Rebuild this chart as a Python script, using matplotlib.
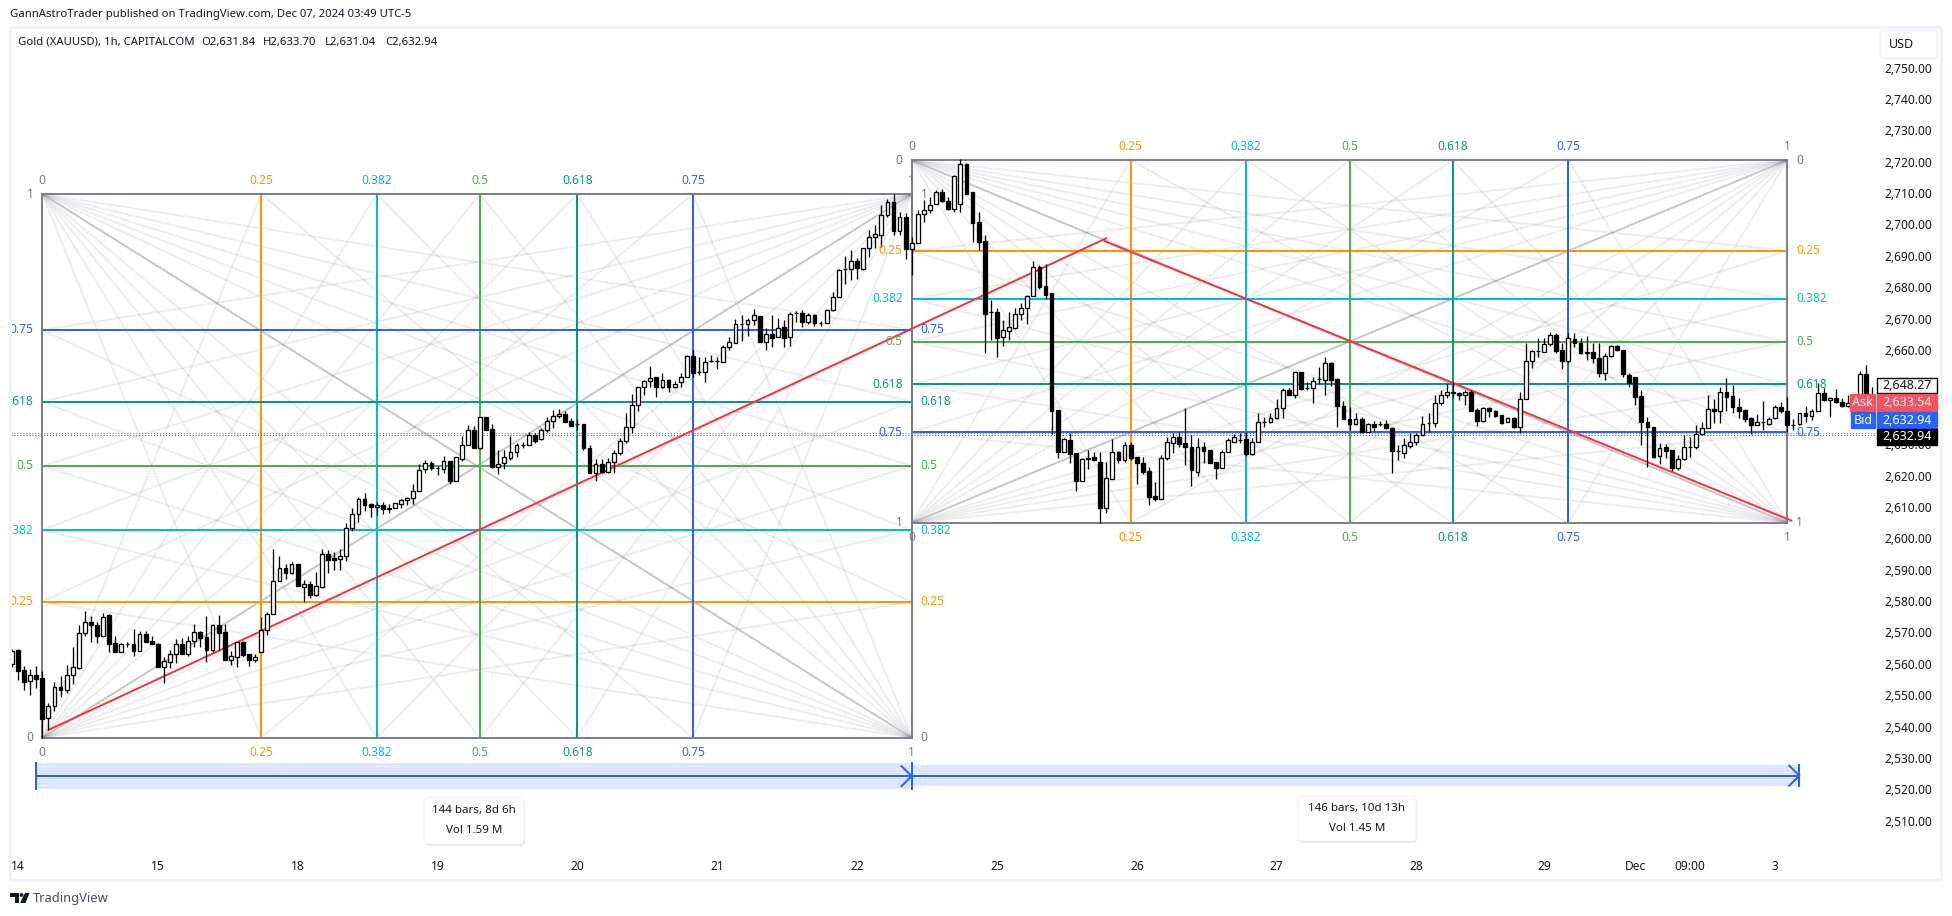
import matplotlib
matplotlib.use("Agg")
import matplotlib.pyplot as plt
from matplotlib.patches import Rectangle, FancyBboxPatch, Polygon, Circle

W, H = 1952, 916
plt.rcParams['font.family'] = ['Noto Sans', 'DejaVu Sans']

first_bar = -5
opens = [2559.8,2564.3,2557.9,2554.4,2556.3,
 2555.4,2542.6,2546.4,2552.7,2551.5,2556.3,2558.8,2569.7,2573.2,2572.3,
 2569,2575.6,2566.5,2563.9,2566.2,2566.2,2564.2,2569.4,2567.3,2566.3,
 2559.1,2560.7,2563,2566.2,2563.2,2567.2,2570,2568.4,2564.5,2572.3,
 2570,2561.2,2562.3,2566.9,2563,2561.2,2563.6,2570.7,2575.8,2586.3,
 2590.4,2589,2591.7,2584.6,2585.3,2581.9,2584.6,2594.9,2593.6,2593.4,
 2594.5,2603.2,2607.6,2612.5,2610.8,2609.9,2610.5,2609.6,2609.6,2610.8,
 2612.2,2612.8,2615,2622,2623.9,2622.3,2622,2624.5,2618.2,2625.4,
 2629.6,2634.4,2628.9,2638.5,2634.7,2622.6,2623.9,2625.7,2627.4,2629.7,
 2629.8,2633,2631.5,2634.4,2637.3,2638.9,2639.5,2637.3,2636.3,2636.4,
 2628.7,2620.7,2623.6,2621.2,2624.3,2627.3,2631.1,2635.4,2642.4,2648.1,
 2650,2651.3,2648.1,2650.3,2648.2,2649.9,2651.5,2658.1,2653.1,2653.1,
 2656.4,2656.4,2656.3,2660.9,2662.3,2668.2,2668.2,2669.5,2670.8,2662.7,
 2665.1,2664,2667.2,2664,2671.7,2671.7,2669,2671.2,2668.6,2668.5,
 2672.6,2677,2685.7,2685.7,2688.4,2685.9,2692.4,2695.9,2696.8,2702.9,
 2707,2698,2702.3,2692.2,2694,2703.2,2704.5,2706.4,2710.5,2707.6,
 2705,2706.6,2719.3,2710.2,2700.7,2694.7,2672,2672,2664,2666.2,
 2666.9,2671.4,2673.3,2677.1,2686.4,2680.4,2678,2640.9,2627.6,2631.3,
 2627.2,2618.1,2625.5,2625.9,2624.3,2609.8,2619,2627.4,2625,2629.7,
 2625.8,2623.9,2621.3,2613.5,2612.6,2625.5,2630.5,2632.4,2630.5,2629.2,
 2621.2,2629,2628.1,2624.2,2622.5,2627.4,2630.8,2631.4,2631.5,2626.9,
 2630.6,2637.2,2636.9,2638.2,2641.4,2647.2,2645.7,2652.9,2648,2648,
 2650.7,2650.4,2655.8,2650.8,2642.2,2638.1,2636.5,2638.1,2634,2636.4,
 2636.4,2636.3,2635,2627.9,2627.3,2629.5,2630.6,2632.9,2636.6,2636.6,
 2643.2,2645.8,2646.7,2646.2,2645.7,2646.5,2640.9,2637.5,2641.4,2640.5,
 2639.3,2637.2,2638.4,2635.3,2644.3,2656.6,2659.7,2659.3,2661.8,2664.7,
 2660,2656.6,2663.5,2662.1,2659.4,2659.3,2657.4,2652.8,2658.2,2661.4,
 2660,2652.1,2651.3,2645.3,2637.1,2635.6,2626.3,2629,2628.1,2622.3,
 2625.2,2629.2,2629,2633.2,2635,2641.1,2640.4,2646.5,2645.3,2641.7,
 2640.9,2638.2,2636.1,2636.9,2636.3,2638.2,2641.9,2640.6,2636.2,2636.3,
 2639.8,2639.1,2640.4,2646.2,2644.1,2644.7,2643.3,2642,2643,2638,2652.4,2640]
closes = [2564.2,2557.8,2554.3,2556.3,2555.3,
 2542.5,2546.4,2552.7,2551.5,2556.3,2558.9,2569.7,2573.2,2572.2,2569,
 2575,2566.4,2563.6,2566.2,2566.3,2564.2,2569.4,2567.1,2566.4,2559.1,
 2560.8,2563,2566.2,2563.2,2567.2,2570,2568.3,2564.5,2572.3,2569.9,
 2561.2,2562.4,2566.9,2562.9,2561.2,2562.3,2570.7,2575.8,2586.3,2590.4,
 2589,2591.7,2584.8,2585.3,2581.9,2584.9,2594.9,2593.1,2593.1,2594.5,
 2603.2,2607.6,2612.5,2610.7,2609.9,2610.5,2609.2,2609.2,2611.1,2612.2,
 2612.8,2615,2621.7,2623.9,2622.3,2622.3,2624.5,2618.4,2625.8,2629.6,
 2634.4,2628.9,2638.5,2634.5,2622.6,2623.8,2625.8,2627.4,2629.7,2629.8,
 2633,2631.1,2634.5,2637.3,2638.9,2639.5,2637.2,2635.9,2636.3,2628.7,
 2620.9,2623.6,2621.1,2624.4,2627.3,2631.1,2635.4,2642.4,2648.1,2650,
 2651.2,2648.1,2650.3,2648.3,2649.3,2651.5,2658.1,2652.8,2653.1,2656.3,
 2656.4,2656.4,2660.9,2662.4,2668.2,2668.2,2669.5,2671.1,2662.7,2665,
 2663.9,2667.1,2663.9,2671.4,2671.7,2669,2671,2668.7,2668.6,2672.6,
 2677,2685.5,2685.7,2688.4,2686,2692.4,2695.9,2696.9,2702.9,2707,
 2698,2702.3,2692.2,2694,2703.2,2704.5,2706.2,2710.5,2707.6,2704.9,
 2715.4,2719.2,2709.7,2700.6,2694.5,2671.6,2672,2663.9,2666.3,2667.2,
 2671.4,2673.3,2677.2,2686.3,2680.2,2677.5,2640.7,2627.5,2631.5,2627,
 2618.1,2625.3,2625.1,2624.8,2609.8,2619.1,2627.4,2624.8,2629.7,2625.7,
 2623.9,2621.1,2613.3,2612.4,2625.5,2630.6,2632.4,2630.1,2629.2,2621.6,
 2629,2627.9,2624.1,2622.5,2627.4,2631.2,2632.2,2631.4,2626.9,2630.8,
 2636.9,2637.2,2638.2,2641.4,2647.2,2645.7,2652.9,2647.6,2648,2650.2,
 2650.7,2655.8,2650.4,2642,2638.1,2636.5,2638.1,2634,2636.3,2635.3,
 2636.4,2635,2627.8,2627.9,2629.7,2630.6,2632.9,2636.3,2636.6,2643.2,
 2645.5,2646.7,2646.2,2645.7,2646.5,2640.7,2637.5,2641.4,2640.4,2639.1,
 2636.6,2638.2,2635.3,2644.3,2656.6,2659.7,2659.7,2661.9,2664.7,2659.8,
 2656.6,2663.7,2662.1,2659,2659,2657.4,2652.8,2658.2,2661.4,2660,
 2652.3,2649.4,2645.1,2636.9,2635.4,2626,2628.7,2627.9,2622.3,2625.2,
 2629.2,2629.2,2633.2,2635,2641.1,2640.4,2646.5,2644.9,2641.7,2640.7,
 2638,2636.1,2637,2636.9,2637.9,2641.9,2640.4,2636.1,2636.2,2639.8,
 2639.1,2640.4,2646.2,2644.1,2644.7,2643.3,2642,2643,2638,2652.4,2640,2642]
highs = [2564.7,2564.7,2559.4,2558.4,2559.3,
 2557.7,2547.4,2554.3,2556.1,2559.6,2565.3,2572.4,2576.7,2575.2,2573.4,
 2576.1,2575.9,2568.9,2566.5,2567.1,2571,2570.6,2570.5,2568.9,2566.5,
 2562.1,2564.4,2568,2568.2,2568.9,2572.6,2570.5,2575.1,2572.7,2575.6,
 2572.7,2564.2,2567.1,2567.2,2563,2563.1,2574.8,2576.6,2596.5,2594.4,
 2591.7,2592.5,2591.7,2586.7,2586.4,2589.4,2596.5,2596.3,2595.7,2596.5,
 2604.8,2609.5,2613,2614.3,2611.1,2611.5,2611.7,2610.9,2611.1,2612.5,
 2613.2,2617.3,2623.7,2624.8,2624.7,2623,2626.2,2624.5,2625.8,2632.6,
 2636.1,2635.8,2638.7,2638.7,2636.4,2628.1,2628.2,2632.6,2630.3,2630.8,
 2634,2633.5,2635,2638.8,2640.9,2641.1,2640.7,2638.2,2637.9,2636.4,
 2629.7,2625.2,2625.2,2625.5,2628.2,2631.9,2639.8,2646,2648.1,2650.4,
 2654.9,2651.5,2652.6,2650.8,2650.1,2652.6,2658.4,2660,2657.9,2657.9,
 2658.4,2657.9,2661.6,2664.2,2669.8,2671.2,2670.1,2673,2670.8,2666.9,
 2671.2,2670.1,2669.6,2672.2,2672.4,2672.8,2671.9,2671.4,2669.3,2673,
 2678.6,2685.7,2690,2691.9,2689.2,2692.6,2698.2,2699.8,2706.2,2708,
 2709.6,2704.1,2703.6,2696.1,2704.6,2707.8,2708.9,2711,2711.2,2708.9,
 2715.8,2720.8,2719.5,2710.5,2703.9,2696.6,2675.9,2673.3,2669.6,2672.2,
 2673.3,2674.9,2677.5,2688.4,2687.1,2687.3,2678,2640.9,2631.8,2633.5,
 2627.2,2625.5,2628.1,2627.6,2627.6,2624.4,2631.5,2627.8,2630.8,2630.8,
 2625.8,2625.8,2622.6,2617.8,2626.6,2632.4,2633.7,2634,2641.4,2632.9,
 2631.9,2630.8,2628.1,2624.2,2628.1,2631.9,2633.3,2633.5,2634,2631.9,
 2639.8,2638.8,2639.8,2644.3,2647.8,2647.8,2653.1,2653.1,2649.9,2651.5,
 2654.5,2657.7,2656.1,2651,2643.6,2641.9,2639.8,2638.6,2636.6,2637.5,
 2637.5,2637.7,2635.3,2629.7,2631.9,2633.5,2633.7,2639,2639.8,2645.7,
 2647.3,2649.2,2649.9,2646.7,2647.3,2647.3,2641.4,2641.9,2641.9,2640.9,
 2639.3,2638.8,2638.8,2646.7,2662.1,2660,2663.7,2663.7,2665.6,2665.3,
 2662.1,2665.3,2665.5,2663.7,2664.3,2662.1,2662.1,2659,2661.6,2661.6,
 2660,2652.8,2651.5,2647.3,2638.8,2635.6,2630.3,2630.1,2628.1,2626.6,
 2632.9,2632.4,2636.1,2636.9,2645.7,2644.3,2648.3,2651,2648.9,2644.6,
 2641.1,2638.5,2639.5,2643.9,2638.6,2642.5,2643.5,2645.1,2637.9,2640,
 2642.2,2641.1,2649.6,2648,2645.1,2647.5,2644.6,2645.7,2643.5,2653.4,2655.2,2648.1]
lows = [2558.9,2554.9,2551.5,2549.9,2552.2,
 2536.5,2538.9,2544.8,2549.5,2550.8,2553.6,2558.3,2568.7,2567.1,2566.7,
 2568.9,2563.6,2563.6,2563.9,2565.3,2562.5,2564.2,2567,2566.4,2559.1,
 2554,2558.8,2560.4,2563.2,2562.6,2565.5,2565.3,2560.6,2563.9,2564.4,
 2561.2,2559.6,2559.1,2562.3,2559.3,2560.7,2563.6,2569.2,2575.8,2586.3,
 2587.1,2588.6,2584.8,2579.8,2581.1,2581.7,2584.1,2589,2589.9,2589.9,
 2592.6,2602.4,2605.3,2608.8,2606.9,2607.3,2607.6,2607.9,2609.6,2609.7,
 2610.6,2610.9,2615,2620.9,2621.8,2620.3,2620.9,2617.3,2618.2,2624.7,
 2629.6,2628.7,2628.4,2634.5,2622.3,2620.5,2622,2625,2626,2628.7,
 2629.7,2630.3,2631.3,2634,2635,2638.2,2637.2,2635.9,2634.5,2628.2,
 2620.9,2618.4,2620.7,2620.9,2620.9,2626.5,2630.3,2633.5,2640.4,2645.7,
 2648.3,2645.1,2647.8,2646.7,2647.8,2648.3,2651.5,2651.5,2652,2649.9,
 2656.2,2654,2656.3,2660,2662.1,2662.9,2664.6,2668,2662.7,2660,
 2661.1,2664,2661.1,2661.4,2669,2667.4,2668.2,2667.8,2667.8,2668.5,
 2672.4,2677,2681,2682.3,2682.7,2685.5,2689.5,2692.4,2692.9,2702.5,
 2696.6,2696.6,2689,2683.9,2694,2700.9,2703.5,2706.4,2707.3,2704.6,
 2704.1,2704.1,2709.7,2694.5,2691.9,2659,2663.2,2657.9,2661.4,2663.2,
 2666.7,2669.6,2668.3,2677.1,2679.3,2676.3,2633.3,2625.7,2627.6,2624.1,
 2615.2,2618.1,2622.1,2624.8,2604.8,2608.2,2619,2623.9,2624.4,2624.8,
 2617.3,2620.5,2610.6,2612,2612.6,2625,2627.3,2629.2,2623.4,2616.5,
 2620,2623.9,2624.1,2618.9,2622.3,2627.4,2630.8,2630.3,2626.2,2626.6,
 2630.6,2635.6,2636.6,2637.9,2638.2,2645.5,2644.6,2647.3,2647.3,2643,
 2649.2,2645.5,2648.5,2635.3,2638.1,2634.5,2636.1,2633.5,2634,2634.2,
 2635.8,2634.8,2620.7,2625,2625.5,2628.7,2629.7,2632.9,2634,2635.3,
 2642.5,2644.6,2644.6,2644.1,2642.5,2640.7,2635.9,2637.2,2638.8,2638.8,
 2636.4,2636.9,2635.1,2633.5,2644.3,2654.4,2657.9,2659.3,2661.4,2659,
 2654,2655.8,2661,2658.7,2656.8,2655.8,2651.5,2650.4,2657.7,2659.8,
 2651.3,2648.3,2642.5,2629.7,2622.6,2625.5,2623.7,2625.5,2621.5,2621.8,
 2625,2626,2628.4,2632.9,2635,2636.6,2636.6,2640.4,2639.8,2638.2,
 2637,2633.2,2636.1,2634.5,2636.1,2637.9,2639.8,2634,2634.5,2636.1,
 2637.2,2637.7,2640.4,2643.9,2638.8,2643,2641.7,2641.7,2637,2637.5,2639,2635.1]

price_ticks = [p for p in range(2510, 2760, 10) if p not in (2640, 2650)]
date_bars = [-4, 19, 42, 65, 88, 111, 134, 157, 180, 203, 226, 247, 262, 271, 285]
date_labels = ['14', '15', '18', '19', '20', '21', '22', '25', '26', '27', '28', '29', 'Dec', '09:00', '3']

fib_levels = [0.25, 0.382, 0.5, 0.618, 0.75]
fib_names = ['0.25', '0.382', '0.5', '0.618', '0.75']
fib_colors = ['#FF9800', '#00BCD4', '#4CAF50', '#089981', '#2962FF']
box1_bars = (0, 143)
box1_prices = (2536.4, 2709.7)
box1_vbars = [36, 55, 72, 88, 107]
box2_bars = (143, 287)
box2_prices = (2604.9, 2720.5)   # level 1 at the bottom, 0 at the top
box2_vbars = [179, 198, 215, 232, 251]

trend_up = ([1, 175], [2538.9, 2695.6])
trend_down = ([174.7, 287.7], [2694.7, 2605.6])
ask_price, bid_price = 2633.54, 2632.94
range1 = (-1, 143, 2520.1, 2528.3)
range2 = (143, 289, 2521.0, 2527.7)

# --- scale: pixels <-> data
BAR0, BAR_W = 42.3, 6.08
P0, P_PX = 2720.0, 3.138
Y0 = 161.7
def bar_at(x): return (x - BAR0) / BAR_W
def price_at(y): return P0 - (y - Y0) / P_PX

PL, PR, PT, PB = 11, 1876, 28, 856
fig = plt.figure(figsize=(W / 100, H / 100), dpi=100, facecolor='white')
ax = fig.add_axes([PL / W, 1 - PB / H, (PR - PL) / W, (PB - PT) / H], zorder=1)
ax.set_xlim(bar_at(PL), bar_at(PR))
ax.set_ylim(price_at(PB), price_at(PT))
ax.set_facecolor('white')
for s in ax.spines.values():
    s.set_visible(False)
PX = 0.72
TXT = '#131722'
GREY = '#787B86'

ax.yaxis.tick_right()
ax.set_yticks(price_ticks)
ax.set_yticklabels([f'{p:,.2f}' for p in price_ticks], fontsize=8.6, color=TXT)
ax.set_xticks(date_bars)
ax.set_xticklabels(date_labels, fontsize=8.6, color=TXT)
ax.tick_params(axis='both', length=0)
ax.tick_params(axis='y', pad=6.3)
ax.tick_params(axis='x', pad=3.0)


def gann(xr, pr, vbars, top_is_one):
    x0, x1 = xr
    p0, p1 = pr  # bottom, top
    h = p1 - p0
    hlv = [p0 + h * f for f in fib_levels] if top_is_one else [p1 - h * f for f in fib_levels]
    kw = dict(color=GREY, alpha=0.13, lw=2 * PX, zorder=1.5, solid_capstyle='butt')
    for cx, cy in [(x0, p0), (x0, p1), (x1, p0), (x1, p1)]:
        ox = x1 if cx == x0 else x0
        oy = p1 if cy == p0 else p0
        for v in vbars:
            ax.plot([cx, v], [cy, oy], **kw)
        for l in hlv:
            ax.plot([cx, ox], [cy, l], **kw)
    ax.plot([x0, x1], [p0, p1], color=GREY, alpha=0.42, lw=2 * PX, zorder=1.6)
    ax.plot([x0, x1], [p1, p0], color=GREY, alpha=0.42, lw=2 * PX, zorder=1.6)
    for v, l, c in zip(vbars, hlv, fib_colors):
        ax.plot([v, v], [p0, p1], color=c, lw=2 * PX, zorder=2, solid_capstyle='butt')
        ax.plot([x0, x1], [l, l], color=c, lw=2 * PX, zorder=2, solid_capstyle='butt')
    ax.add_patch(Rectangle((x0, p0), x1 - x0, h, fill=False, ec=GREY, lw=2 * PX, alpha=0.95, zorder=2.1))

    def lab(x, y, s, c, dx, dy, ha):
        ax.annotate(s, xy=(x, y), xytext=(dx, dy), textcoords='offset pixels', ha=ha, va='center',
                    color=c, fontsize=8.6, zorder=7, annotation_clip=False)
    for v, n, c in zip(vbars, fib_names, fib_colors):
        lab(v, p1, n, c, 0, 13.5, 'center')
        lab(v, p0, n, c, 0, -14.5, 'center')
    lab(x0, p1, '0', GREY, 0, 13.5, 'center'); lab(x1, p1, '1', GREY, 0, 13.5, 'center')
    lab(x0, p0, '0', GREY, 0, -14.5, 'center'); lab(x1, p0, '1', GREY, 0, -14.5, 'center')
    for l, n, c in zip(hlv, fib_names, fib_colors):
        short = n if not (x0 == 0 and n in ('0.382', '0.618')) else n[1:]
        lab(x0, l, short, c, -9, 0, 'right')
        lab(x1, l, n, c, 9, 0, 'left')
    lo, hi = ('0', '1') if top_is_one else ('1', '0')
    lab(x0, p0, lo, GREY, -9, 0, 'right'); lab(x0, p1, hi, GREY, -9, 0, 'right')
    lab(x1, p0, lo, GREY, 9, 0, 'left'); lab(x1, p1, hi, GREY, 9, 0, 'left')

gann(box1_bars, box1_prices, box1_vbars, True)
gann(box2_bars, box2_prices, box2_vbars, False)

RED = '#F23645'
ax.plot(*trend_up, color=RED, lw=2 * PX, zorder=3, solid_capstyle='round')
ax.plot(*trend_down, color=RED, lw=2 * PX, zorder=3, solid_capstyle='round')
ax.axhline(ask_price, color='#F7525F', lw=PX * 1.1, ls=(0, (1, 1.7)), zorder=3)
ax.axhline(bid_price, color='#2962FF', lw=PX * 1.1, ls=(0, (1, 1.7)), zorder=3)

# candles
bars = list(range(first_bar, first_bar + len(opens)))
assert len(opens) == len(closes) == len(highs) == len(lows)
ax.vlines(bars, lows, highs, color='black', lw=1.3 * PX, zorder=4)
ups = [i for i in range(len(bars)) if closes[i] >= opens[i]]
downs = [i for i in range(len(bars)) if closes[i] < opens[i]]
ax.bar([bars[i] for i in ups], [closes[i] - opens[i] for i in ups], bottom=[opens[i] for i in ups],
       width=0.62, facecolor='white', edgecolor='black', lw=1.3 * PX, zorder=5)
ax.bar([bars[i] for i in downs], [closes[i] - opens[i] for i in downs], bottom=[opens[i] for i in downs],
       width=0.62, facecolor='black', edgecolor='black', lw=1.3 * PX, zorder=5)

# date ranges
BLUE = '#2962FF'
for (b0, b1, lo, hi) in (range1, range2):
    mid = (lo + hi) / 2
    ax.add_patch(Rectangle((b0, lo), b1 - b0, hi - lo, fc=BLUE, alpha=0.15, ec='none', zorder=1.2))
    ax.plot([b0, b1], [mid, mid], color=BLUE, lw=2 * PX, zorder=3)
    ax.plot([b0, b0], [lo - 0.3, hi + 0.3], color=BLUE, lw=2 * PX, zorder=3, solid_capstyle='butt')
    ax.plot([b1, b1], [lo - 0.3, hi + 0.3], color=BLUE, lw=2 * PX, zorder=3, solid_capstyle='butt')
    ax.plot([b1 - 1.7, b1, b1 - 1.7], [mid + 3.2, mid, mid - 3.2], color=BLUE, lw=2 * PX, zorder=3)

# overlay in pixel coordinates for chart chrome
ov = fig.add_axes([0, 0, 1, 1], zorder=10)
ov.set_xlim(0, W); ov.set_ylim(H, 0); ov.axis('off'); ov.patch.set_alpha(0)
FR = '#F0F3FA'
ov.add_patch(Rectangle((10, 27), 1931, 853, fill=False, ec=FR, lw=3 * PX))
ov.text(10, 15, 'GannAstroTrader published on TradingView.com, Dec 07, 2024 03:49 UTC-5',
        fontsize=8.15, color=TXT, va='center')
ov.text(18, 42, 'Gold (XAUUSD), 1h, CAPITALCOM', fontsize=8.15, color=TXT, va='center')
for x, s in [(201, 'O2,631.84'), (263, 'H2,633.70'), (325, 'L2,631.04'), (385, 'C2,632.94')]:
    ov.text(x, 42, s, fontsize=8.15, color=TXT, va='center')
ov.add_patch(FancyBboxPatch((1882, 32), 54, 25, boxstyle='round,pad=1.5,rounding_size=4', fc='white', ec=FR, lw=2 * PX))
ov.text(1901.5, 45, 'USD', fontsize=9, color=TXT, ha='center', va='center')

def tag(x0, x1, y0, y1, s, fc, tc, ec=None):
    ov.add_patch(Rectangle((x0, y0), x1 - x0, y1 - y0, fc=fc, ec=ec if ec else fc, lw=PX * 1.4))
    ov.text((x0 + x1) / 2, (y0 + y1) / 2, s, fontsize=9, color=tc, ha='center', va='center')
tag(1877, 1937, 377.5, 393, '2,648.27', 'white', TXT, 'black')
tag(1850, 1875, 394, 411, 'Ask', '#F7525F', 'white')
tag(1877, 1937, 394, 411, '2,633.54', '#F7525F', 'white')
tag(1851, 1875, 412, 428, 'Bid', BLUE, 'white')
tag(1877, 1937, 412, 428, '2,632.94', BLUE, 'white')
tag(1877, 1937, 429, 445, '2,632.94', 'black', 'white')

def info(x0, x1, y0, y1, a, b):
    ov.add_patch(FancyBboxPatch((x0 + 1, y0 + 2), x1 - x0, y1 - y0, boxstyle='round,pad=0,rounding_size=4',
                                fc='#D8DAE0', ec='none', alpha=0.55))
    ov.add_patch(FancyBboxPatch((x0, y0), x1 - x0, y1 - y0, boxstyle='round,pad=0,rounding_size=4',
                                fc='white', ec='#F0F1F4', lw=PX))
    c = (x0 + x1) / 2
    ov.text(c, y0 + 12.5, a, fontsize=8.3, color=TXT, ha='center', va='center')
    ov.text(c, y0 + 32.5, b, fontsize=8.3, color=TXT, ha='center', va='center')
info(424, 524, 798, 844, '144 bars, 8d 6h', 'Vol 1.59 M')
info(1298, 1416, 796, 841, '146 bars, 10d 13h', 'Vol 1.45 M')

# footer logo
ov.add_patch(Polygon([(10, 893), (19, 893), (19, 903), (14.5, 903), (14.5, 897), (10, 897)], fc=TXT, ec='none'))
ov.add_patch(Circle((21.5, 895), 1.9, fc=TXT, ec='none'))
ov.add_patch(Polygon([(25, 893), (29.5, 893), (25.5, 903), (20, 903)], fc=TXT, ec='none'))
ov.text(33, 898.5, 'TradingView', fontsize=9.3, color='#4A4E5A', va='center')

fig.savefig('out.png', dpi=100, facecolor='white')
